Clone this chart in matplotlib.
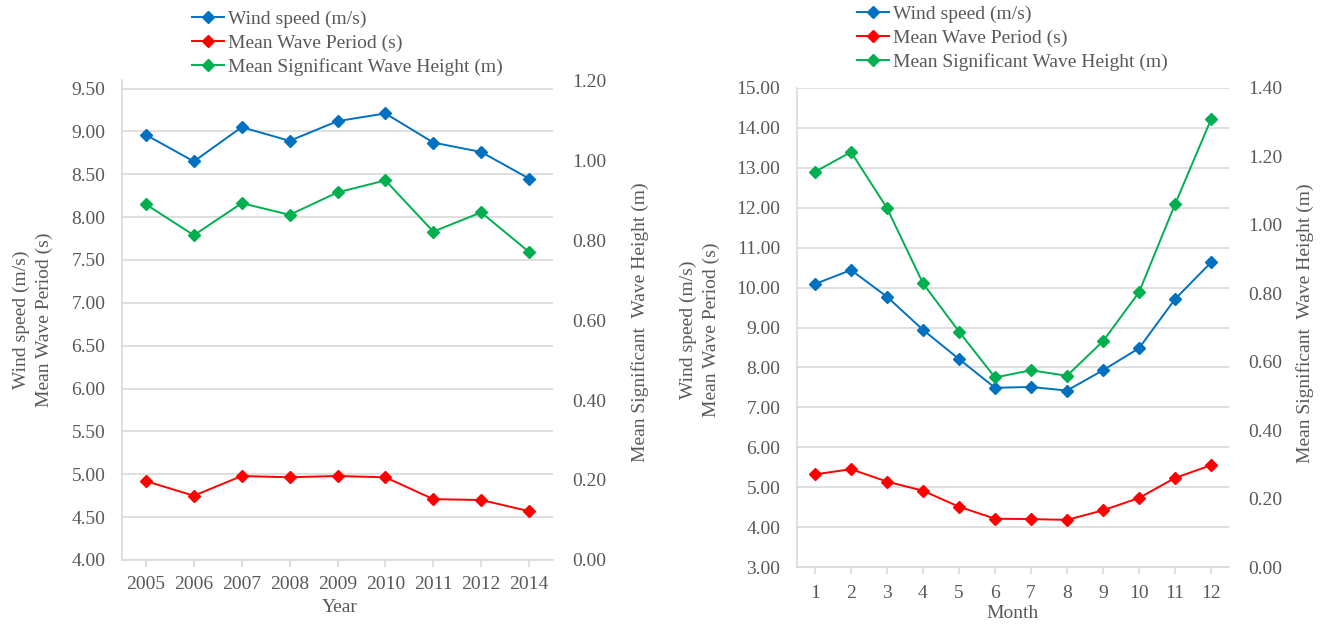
import matplotlib
matplotlib.use("Agg")
import matplotlib.pyplot as plt
import numpy as np

plt.rcParams['font.family'] = ['Liberation Serif', 'DejaVu Serif']

# ---- data ----
years = ['2005', '2006', '2007', '2008', '2009', '2010', '2011', '2012', '2014']
wind_year = [8.96, 8.65, 9.05, 8.89, 9.12, 9.21, 8.87, 8.76, 8.45]
period_year = [4.92, 4.75, 4.98, 4.965, 4.98, 4.965, 4.71, 4.70, 4.57]
height_year = [0.889, 0.812, 0.892, 0.863, 0.919, 0.949, 0.821, 0.869, 0.770]

months = ['1', '2', '3', '4', '5', '6', '7', '8', '9', '10', '11', '12']
wind_month = [10.09, 10.44, 9.77, 8.94, 8.21, 7.49, 7.51, 7.42, 7.93, 8.48, 9.71, 10.63]
period_month = [5.32, 5.45, 5.14, 4.91, 4.51, 4.21, 4.20, 4.18, 4.42, 4.73, 5.23, 5.55]
height_month = [1.155, 1.213, 1.049, 0.829, 0.688, 0.554, 0.575, 0.559, 0.660, 0.803, 1.060, 1.308]

labels = ['Wind speed (m/s)', 'Mean Wave Period (s)', 'Mean Significant Wave Height (m)']
left_label = 'Wind speed (m/s)\nMean Wave Period (s)'
right_label = 'Mean Significant  Wave Height (m)'

BLUE = '#0070C0'
RED = '#FF0000'
GREEN = '#00B050'
GRAY = '#595959'
GRID = '#D9D9D9'
FS = 14

W, H = 1331, 624
fig = plt.figure(figsize=(W / 100, H / 100), dpi=100)


def px_axes(x0, x1, ytop, ybot):
    return fig.add_axes([x0 / W, 1 - ybot / H, (x1 - x0) / W, (ybot - ytop) / H])


def panel(rect, cats, wind, period, height, lylim, lyticks, rylim, ryticks,
          xpad, xlabel, xlabel_xy, leg_xy, ll_xy, rl_xy):
    ax = px_axes(*rect)
    ax2 = ax.twinx()
    x = np.arange(len(cats))
    kw = dict(marker='D', markersize=6, linewidth=1.4)
    h1, = ax.plot(x, wind, color=BLUE, **kw)
    h2, = ax.plot(x, period, color=RED, **kw)
    h3, = ax2.plot(x, height, color=GREEN, **kw)
    ax.set_xlim(-0.5, len(cats) - 0.5)
    ax.set_ylim(*lylim)
    ax.set_yticks(lyticks)
    ax.set_yticklabels([f'{v:.2f}' for v in lyticks])
    ax2.set_ylim(*rylim)
    ax2.set_yticks(ryticks)
    ax2.set_yticklabels([f'{v:.2f}' for v in ryticks])
    ax.set_xticks(x)
    ax.set_xticklabels(cats)
    ax.grid(axis='y', color=GRID, linewidth=1.2)
    ax.set_axisbelow(True)
    for a in (ax, ax2):
        for s in ('top', 'right', 'left', 'bottom'):
            a.spines[s].set_visible(False)
    for s in ('left', 'bottom'):
        ax.spines[s].set_visible(True)
        ax.spines[s].set_color(GRID)
        ax.spines[s].set_linewidth(1.2)
    ax.tick_params(axis='y', length=0, pad=12, labelsize=FS, labelcolor=GRAY)
    ax.tick_params(axis='x', length=5, direction='out', color=GRID, width=1.2,
                   pad=xpad, labelsize=FS, labelcolor=GRAY)
    ax2.tick_params(axis='y', length=0, pad=14, labelsize=FS, labelcolor=GRAY)
    fig.text(xlabel_xy[0] / W, 1 - xlabel_xy[1] / H, xlabel, ha='center', va='center',
             fontsize=FS, color=GRAY)
    fig.text(ll_xy[0] / W, 1 - ll_xy[1] / H, left_label, ha='center', va='center',
             rotation=90, fontsize=FS, color=GRAY, multialignment='center', linespacing=1.4)
    fig.text(rl_xy[0] / W, 1 - rl_xy[1] / H, right_label, ha='center', va='center',
             rotation=90, fontsize=FS, color=GRAY)
    leg = fig.legend([h1, h2, h3], labels, loc='upper left',
                     bbox_to_anchor=(leg_xy[0] / W, 1 - leg_xy[1] / H),
                     frameon=False, fontsize=FS, handlelength=1.65, handletextpad=0.2,
                     borderpad=0, borderaxespad=0, labelspacing=0.33)
    for t in leg.get_texts():
        t.set_color(GRAY)
    return ax, ax2


panel((122, 553, 80, 560), years, wind_year, period_year, height_year,
      (4.0, 9.6), np.arange(4.0, 9.51, 0.5), (0.0, 1.2), np.arange(0, 1.21, 0.2),
      6.5, 'Year', (340, 608), (192, 10), (33, 320), (640, 322))

panel((797, 1229, 88, 567), months, wind_month, period_month, height_month,
      (3.0, 15.0), np.arange(3.0, 15.01, 1.0), (0.0, 1.4), np.arange(0, 1.41, 0.2),
      8, 'Month', (1013, 613), (857, 5), (700, 330), (1305, 323))

fig.savefig('out.png', dpi=100)
